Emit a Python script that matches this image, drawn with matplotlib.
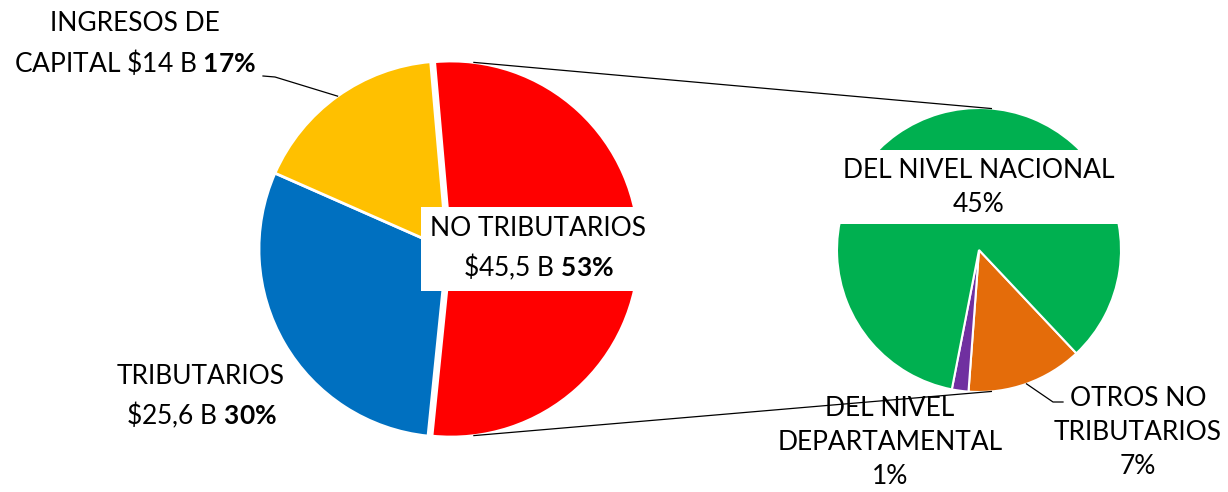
import numpy as np
import matplotlib
matplotlib.use('Agg')
import matplotlib.pyplot as plt

W, H = 1228, 492

# torta principal
main_names = ['NO TRIBUTARIOS', 'TRIBUTARIOS', 'INGRESOS DE\nCAPITAL']
main_amounts = ['$45,5 B', '$25,6 B', '$14 B']
main_pct = [53, 30, 17]
main_colors = ['#FF0000', '#0070C0', '#FFC000']

# desglose de no tributarios
sub_names = ['OTROS NO\nTRIBUTARIOS', 'DEL NIVEL\nDEPARTAMENTAL', 'DEL NIVEL NACIONAL']
sub_pct = [7, 1, 45]
sub_colors = ['#E46C0A', '#7030A0', '#00B050']

plt.rcParams['font.family'] = ['Lato', 'DejaVu Sans']
plt.rcParams['mathtext.fontset'] = 'custom'
plt.rcParams['mathtext.rm'] = 'Lato'
plt.rcParams['mathtext.bf'] = 'Lato:bold'

FS = 19

# posiciones en pixeles (origen arriba a la izquierda)
c1, r1, start1 = (447, 249), 188, 95
c2, r2, start2 = (979, 250), 142, -46.7
expl = 4  # desplazamiento de la porcion roja, en pixeles


def py(y):
    return H - y


fig = plt.figure(figsize=(W / 100, H / 100), dpi=100)
ax = fig.add_axes([0, 0, 1, 1])

w1, _ = ax.pie(main_pct, colors=main_colors, radius=r1, center=(c1[0], py(c1[1])),
               startangle=start1, counterclock=False, frame=True, explode=[expl, 0, 0],
               wedgeprops=dict(edgecolor='white', linewidth=2.0))
w2, _ = ax.pie(sub_pct, colors=sub_colors, radius=r2, center=(c2[0], py(c2[1])),
               startangle=start2, counterclock=False, frame=True,
               wedgeprops=dict(edgecolor='white', linewidth=1.5))

ax.set_xlim(0, W)
ax.set_ylim(0, H)
ax.set_aspect('equal')
ax.set_axis_off()


def arc_pt(c, r, ang, dx=0):
    a = np.deg2rad(ang)
    return c[0] + dx + r * np.cos(a), py(c[1]) + r * np.sin(a)


def mid_angle(w):
    return (w.theta1 + w.theta2) / 2


# lineas de conexion entre las dos tortas
for s in (1, -1):
    x0, y0 = arc_pt(c1, r1, 83 * s, dx=expl)
    x1, y1 = arc_pt(c2, r2, 85 * s)
    ax.plot([x0, x1], [y0, y1], color='black', lw=0.9, zorder=5)


def main_label(i, sep):
    amt = main_amounts[i].replace('$', r'\$')
    return f"{main_names[i]}{sep}{amt} $\\mathbf{{{main_pct[i]}\\%}}$"


box = dict(boxstyle='square,pad=0.35', fc='white', ec='none')

ax.text(538, py(249), main_label(0, '\n'), ha='center', va='center', fontsize=FS,
        linespacing=1.45, bbox=box, zorder=6)
ax.text(201, py(397), main_label(1, '\n'), ha='center', va='center', fontsize=FS,
        linespacing=1.45, zorder=6)
ax.text(135, py(44), main_label(2, ' '), ha='center', va='center', fontsize=FS,
        linespacing=1.45, zorder=6)

# guia de ingresos de capital
xa, ya = arc_pt(c1, r1, mid_angle(w1[2]))
ax.plot([xa, 275, 263], [ya, py(77), py(76)], color='black', lw=0.9, zorder=5)

# etiquetas del desglose
ax.text(979, py(187), f"{sub_names[2]}\n{sub_pct[2]}%", ha='center', va='center',
        fontsize=FS, linespacing=1.45, bbox=dict(boxstyle='square,pad=0.3', fc='white', ec='none'),
        zorder=6)
ax.text(1138, py(432), f"{sub_names[0]}\n{sub_pct[0]}%", ha='center', va='center',
        fontsize=FS, linespacing=1.45, zorder=6)
ax.text(890, py(442), f"{sub_names[1]}\n{sub_pct[1]}%", ha='center', va='center',
        fontsize=FS, linespacing=1.45, zorder=4)

xo, yo = arc_pt(c2, r2, mid_angle(w2[0]))
ax.plot([xo, 1053, 1063], [yo, py(402), py(402)], color='black', lw=0.9, zorder=5)

fig.savefig('out.png', dpi=100, facecolor='white')
